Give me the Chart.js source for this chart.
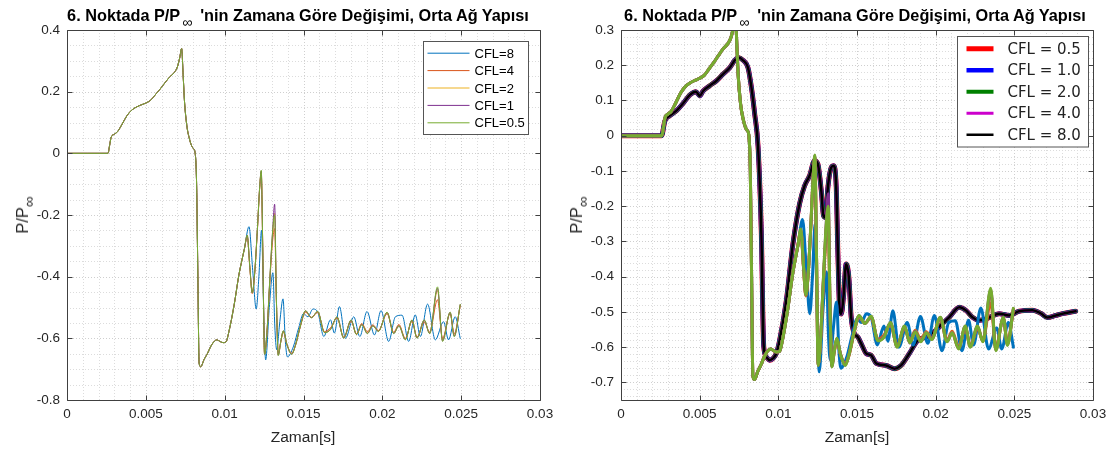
<!DOCTYPE html>
<html>
<head>
<meta charset="utf-8">
<script src="https://cdn.jsdelivr.net/npm/chart.js@4.4.1/dist/chart.umd.min.js"></script>
<style>
  body { margin: 0; background: #fff; }
  #wrap { position: relative; width: 1110px; height: 453px; overflow: hidden; font-family: "Liberation Sans", Arial, sans-serif; color: #000; }
  canvas { position: absolute; top: 0; }
  .ttl { position: absolute; top: 5px; font-weight: bold; font-size: 16.3px; line-height: 20px; white-space: nowrap; transform: translateX(-50%); }
  .ttl sub { font-weight: normal; font-size: 14px; line-height: 0; vertical-align: -6px; margin: 0 8px 0 2px; }
  .xlab { position: absolute; top: 428px; font-size: 15.5px; line-height: 18px; white-space: nowrap; transform: translateX(-50%); color: #262626; }
  .ylab { position: absolute; top: 215px; font-size: 16.5px; line-height: 18px; white-space: nowrap; transform: translate(-50%, -50%) rotate(-90deg); color: #262626; }
  .ylab sub { font-size: 15px; line-height: 0; vertical-align: -6px; }
</style>
</head>
<body>
<div id="wrap">
  <canvas id="leftChart" width="555" height="453" style="left:0"></canvas>
  <canvas id="rightChart" width="555" height="453" style="left:555px"></canvas>
  <div class="ttl" style="left:298px">6. Noktada P/P<sub>∞</sub>'nin Zamana Göre Değişimi, Orta Ağ Yapısı</div>
  <div class="ttl" style="left:855px">6. Noktada P/P<sub>∞</sub>'nin Zamana Göre Değişimi, Orta Ağ Yapısı</div>
  <div class="ylab" style="left:22px">P/P<sub>∞</sub></div>
  <div class="ylab" style="left:576px">P/P<sub>∞</sub></div>
  <div class="xlab" style="left:303px">Zaman[s]</div>
  <div class="xlab" style="left:857px">Zaman[s]</div>
</div>
<script>
// common start of every CFL run (identical up to ~0.011 s)
const tHead = [0, 0.0026, 0.0027, 0.0028, 0.0030, 0.0032, 0.0035, 0.0038, 0.0041, 0.0044, 0.0047, 0.0050,
  0.0053, 0.0056, 0.0059, 0.0062, 0.0065, 0.0068, 0.0070, 0.00715, 0.00727, 0.00737, 0.00745, 0.00760,
  0.00775, 0.00790, 0.00802, 0.00812, 0.00822, 0.00830, 0.00838, 0.00848, 0.00870, 0.00890, 0.00910,
  0.00930, 0.00950, 0.00970, 0.00990, 0.01008, 0.01027, 0.01060, 0.01090, 0.01110];
const pHead = [0, 0, 0.025, 0.052, 0.062, 0.070, 0.095, 0.122, 0.140, 0.150, 0.157, 0.163,
  0.172, 0.190, 0.208, 0.228, 0.247, 0.262, 0.280, 0.310, 0.340, 0.250, 0.170, 0.090,
  0.050, 0.025, 0.015, 0.003, -0.100, -0.400, -0.680, -0.692, -0.668, -0.650, -0.628,
  -0.612, -0.605, -0.610, -0.614, -0.612, -0.578, -0.492, -0.395, -0.345];

// CFL=8 tail
const tTail8 = [0.01125, 0.01154, 0.01178, 0.01200, 0.01217, 0.01234, 0.01246, 0.01260, 0.01283, 0.01306,
  0.01318, 0.01330, 0.01350, 0.01370, 0.01385, 0.01398, 0.01435, 0.01470, 0.01500, 0.01528, 0.01560,
  0.01590, 0.01629, 0.01671, 0.01696, 0.01728, 0.01766, 0.01819, 0.01857, 0.01903, 0.01950, 0.01992,
  0.02040, 0.02083, 0.02125, 0.02167, 0.02209, 0.02241, 0.02287, 0.02336, 0.02388, 0.02420, 0.02462, 0.02494];
const pTail8 = [-0.310, -0.238, -0.380, -0.505, -0.400, -0.249, -0.480, -0.670, -0.500, -0.387,
  -0.560, -0.637, -0.545, -0.472, -0.610, -0.660, -0.628, -0.565, -0.520, -0.530, -0.505,
  -0.515, -0.594, -0.540, -0.583, -0.497, -0.600, -0.530, -0.594, -0.513, -0.589, -0.510,
  -0.610, -0.530, -0.525, -0.610, -0.524, -0.594, -0.489, -0.605, -0.546, -0.605, -0.530, -0.600];

// CFL=4, 2, 1, 0.5 tails share one time grid
const tTail = [0.01125, 0.01143, 0.01160, 0.01175, 0.01190, 0.01207, 0.01222, 0.01232, 0.01242, 0.01253,
  0.01268, 0.01285, 0.01303, 0.01317, 0.01328, 0.01340, 0.01356, 0.01372, 0.01395, 0.01425, 0.01450,
  0.01480, 0.01513, 0.01550, 0.01590, 0.01633, 0.01671, 0.01713, 0.01755, 0.01802, 0.01836, 0.01870,
  0.01905, 0.01940, 0.01975, 0.02030, 0.02072, 0.02105, 0.02146, 0.02188, 0.02220, 0.02266, 0.02300,
  0.02350, 0.02382, 0.02430, 0.02456, 0.02494];
const pTail4 = [-0.310, -0.272, -0.375, -0.455, -0.392, -0.255, -0.115, -0.065, -0.320, -0.650,
  -0.585, -0.430, -0.290, -0.244, -0.480, -0.650, -0.612, -0.580, -0.620, -0.648, -0.622,
  -0.562, -0.515, -0.532, -0.516, -0.578, -0.566, -0.535, -0.596, -0.545, -0.585, -0.552,
  -0.578, -0.556, -0.575, -0.520, -0.580, -0.555, -0.600, -0.545, -0.596, -0.548, -0.580,
  -0.475, -0.600, -0.520, -0.585, -0.495];
const pTail2 = [-0.310, -0.268, -0.372, -0.453, -0.391, -0.252, -0.112, -0.060, -0.320, -0.651,
  -0.582, -0.425, -0.272, -0.195, -0.472, -0.654, -0.611, -0.577, -0.620, -0.650, -0.621,
  -0.561, -0.512, -0.533, -0.514, -0.580, -0.570, -0.532, -0.598, -0.542, -0.587, -0.554,
  -0.582, -0.558, -0.577, -0.517, -0.583, -0.558, -0.603, -0.542, -0.598, -0.542, -0.583,
  -0.445, -0.606, -0.517, -0.591, -0.492];
const pTail1 = [-0.310, -0.266, -0.371, -0.452, -0.390, -0.251, -0.110, -0.057, -0.320, -0.652,
  -0.581, -0.422, -0.262, -0.165, -0.468, -0.655, -0.610, -0.576, -0.620, -0.651, -0.620,
  -0.560, -0.511, -0.533, -0.513, -0.581, -0.571, -0.531, -0.599, -0.541, -0.588, -0.555,
  -0.584, -0.559, -0.577, -0.516, -0.584, -0.559, -0.604, -0.541, -0.599, -0.541, -0.584,
  -0.438, -0.608, -0.516, -0.593, -0.491];
const pTail05 = [-0.310, -0.265, -0.370, -0.452, -0.390, -0.250, -0.110, -0.055, -0.320, -0.652,
  -0.580, -0.420, -0.260, -0.200, -0.470, -0.656, -0.610, -0.575, -0.620, -0.652, -0.620,
  -0.560, -0.510, -0.533, -0.512, -0.582, -0.572, -0.530, -0.600, -0.540, -0.588, -0.556,
  -0.585, -0.560, -0.578, -0.515, -0.585, -0.560, -0.605, -0.540, -0.600, -0.540, -0.585,
  -0.433, -0.610, -0.515, -0.595, -0.490];

// right panel reference run (same curve for all five legend entries)
const tRef = [0, 0.00258, 0.00279, 0.00311, 0.00353, 0.00395, 0.00438, 0.00476, 0.00501, 0.00522, 0.00564,
  0.00607, 0.00649, 0.00691, 0.00723, 0.00744, 0.00776, 0.00807, 0.00829, 0.00850, 0.00871, 0.00892,
  0.00907, 0.00924, 0.00945, 0.00966, 0.00987, 0.01008, 0.01051, 0.01093, 0.01135, 0.01167, 0.01199,
  0.01230, 0.01251, 0.01273, 0.01287, 0.01300, 0.01315, 0.01336, 0.01351, 0.01368, 0.01378, 0.01389,
  0.01400, 0.01414, 0.01431, 0.01448, 0.01463, 0.01484, 0.01505, 0.01537, 0.01558, 0.01590, 0.01622,
  0.01685, 0.01738, 0.01780, 0.01833, 0.01886, 0.01939, 0.02002, 0.02044, 0.02087, 0.02150, 0.02193,
  0.02234, 0.02277, 0.02319, 0.02404, 0.02467, 0.02530, 0.02615, 0.02668, 0.02710, 0.02763, 0.02805, 0.02890];
const pRef = [0, 0, 0.042, 0.057, 0.071, 0.092, 0.116, 0.125, 0.113, 0.127, 0.142,
  0.156, 0.175, 0.193, 0.214, 0.222, 0.214, 0.193, 0.137, 0.061, -0.030, -0.277,
  -0.597, -0.628, -0.637, -0.632, -0.618, -0.581, -0.467, -0.306, -0.193, -0.142, -0.113,
  -0.071, -0.080, -0.156, -0.227, -0.232, -0.146, -0.090, -0.085, -0.146, -0.326, -0.487,
  -0.506, -0.458, -0.364, -0.401, -0.515, -0.562, -0.571, -0.600, -0.618, -0.623, -0.646,
  -0.652, -0.661, -0.652, -0.618, -0.581, -0.571, -0.552, -0.533, -0.515, -0.487, -0.496,
  -0.515, -0.524, -0.520, -0.505, -0.510, -0.498, -0.495, -0.504, -0.516, -0.510, -0.505, -0.498];

const labelsLeft = ['CFL=8', 'CFL=4', 'CFL=2', 'CFL=1', 'CFL=0.5'];
const labelsRight = ['CFL = 0.5', 'CFL = 1.0', 'CFL = 2.0', 'CFL = 4.0', 'CFL = 8.0'];
const xTicks = { min: 0, max: 0.03, step: 0.005, minor: 0.001 };

const FONT = '"Liberation Sans", Arial, sans-serif';
const matlabColors = ['#0072BD', '#D95319', '#EDB120', '#7E2F8E', '#77AC30'];
const refColors = ['#ff0000', '#0000ff', '#008000', '#cc00cc', '#000000'];
const refWidths = [5, 4.5, 4, 3, 2.5];

function pts(ts, ps) { return ts.map((t, i) => ({ x: t, y: ps[i] })); }
function fmt(v) { return String(Math.round(v * 10000) / 10000); }
function steps(min, max, step) {
  const out = [];
  const i0 = Math.ceil(min / step - 1e-6), i1 = Math.floor(max / step + 1e-6);
  for (let i = i0; i <= i1; i++) out.push(i * step);
  return out;
}

const runs = [
  pts(tHead.concat(tTail8), pHead.concat(pTail8)),
  pts(tHead.concat(tTail), pHead.concat(pTail4)),
  pts(tHead.concat(tTail), pHead.concat(pTail2)),
  pts(tHead.concat(tTail), pHead.concat(pTail1)),
  pts(tHead.concat(tTail), pHead.concat(pTail05))
];

// grid, box and inward ticks the way MATLAB draws them
const matlabAxes = {
  id: 'matlabAxes',
  beforeDatasetsDraw(chart, args, o) {
    const { ctx, chartArea: a, scales: { x, y } } = chart;
    ctx.save();
    ctx.lineWidth = 1;
    ctx.setLineDash([1, 2]);
    const vLine = px => { const p = Math.round(px) + 0.5; ctx.beginPath(); ctx.moveTo(p, a.top); ctx.lineTo(p, a.bottom); ctx.stroke(); };
    const hLine = py => { const p = Math.round(py) + 0.5; ctx.beginPath(); ctx.moveTo(a.left, p); ctx.lineTo(a.right, p); ctx.stroke(); };
    ctx.strokeStyle = o.minorColor;
    steps(x.min, x.max, o.xMinor).forEach(v => vLine(x.getPixelForValue(v)));
    steps(y.min, y.max, o.yMinor).forEach(v => hLine(y.getPixelForValue(v)));
    ctx.strokeStyle = o.majorColor;
    x.ticks.forEach(t => vLine(x.getPixelForValue(t.value)));
    y.ticks.forEach(t => hLine(y.getPixelForValue(t.value)));
    ctx.restore();
  },
  afterDatasetsDraw(chart, args, o) {
    const { ctx, chartArea: a, scales: { x, y } } = chart;
    const L = Math.round(a.left) + 0.5, R = Math.round(a.right) + 0.5;
    const T = Math.round(a.top) + 0.5, B = Math.round(a.bottom) + 0.5;
    ctx.save();
    ctx.strokeStyle = o.boxColor;
    ctx.lineWidth = 1;
    ctx.beginPath();
    ctx.rect(L, T, R - L, B - T);
    x.ticks.forEach(t => {
      const p = Math.round(x.getPixelForValue(t.value)) + 0.5;
      ctx.moveTo(p, B); ctx.lineTo(p, B - o.tickLen);
      ctx.moveTo(p, T); ctx.lineTo(p, T + o.tickLen);
    });
    y.ticks.forEach(t => {
      const p = Math.round(y.getPixelForValue(t.value)) + 0.5;
      ctx.moveTo(L, p); ctx.lineTo(L + o.tickLen, p);
      ctx.moveTo(R, p); ctx.lineTo(R - o.tickLen, p);
    });
    ctx.stroke();
    ctx.restore();
  }
};

// legend box inside the axes
const boxLegend = {
  id: 'boxLegend',
  afterDraw(chart, args, o) {
    const { ctx, chartArea: a } = chart;
    const items = chart.data.datasets.slice(0, o.count);
    const x0 = Math.round(a.right - o.offsetRight - o.width) + 0.5;
    const y0 = Math.round(a.top + o.offsetTop) + 0.5;
    const h = o.padY * 2 + o.rowH * items.length;
    ctx.save();
    ctx.fillStyle = '#fff';
    ctx.fillRect(x0, y0, o.width, h);
    ctx.strokeStyle = o.borderColor;
    ctx.lineWidth = 1;
    ctx.strokeRect(x0, y0, o.width, h);
    ctx.font = o.font;
    ctx.textBaseline = 'middle';
    items.forEach((ds, i) => {
      const cy = y0 + o.padY + o.rowH * (i + 0.5);
      ctx.strokeStyle = ds.borderColor;
      ctx.lineWidth = ds.borderWidth;
      ctx.beginPath();
      ctx.moveTo(x0 + o.lineX0, cy);
      ctx.lineTo(x0 + o.lineX1, cy);
      ctx.stroke();
      ctx.fillStyle = o.textColor;
      ctx.fillText(ds.label, x0 + o.textX, cy + 1);
    });
    ctx.restore();
  }
};

function axisOptions(yMin, yMax, yStep, padL, padR) {
  const tickFont = { family: FONT, size: 13.5 };
  return {
    responsive: false,
    animation: false,
    devicePixelRatio: 1,
    layout: { padding: { left: padL, right: padR, top: 30, bottom: 23 } },
    elements: { point: { radius: 0 }, line: { cubicInterpolationMode: 'monotone', borderCapStyle: 'round', borderJoinStyle: 'round' } },
    plugins: { legend: { display: false }, tooltip: { enabled: false } },
    scales: {
      x: {
        type: 'linear', min: xTicks.min, max: xTicks.max,
        afterFit: s => { s.height = 30; s.paddingLeft = 0; s.paddingRight = 0; },
        grid: { display: false, drawTicks: false }, border: { display: false },
        ticks: { stepSize: xTicks.step, padding: 6, maxRotation: 0, autoSkip: false, color: '#262626', font: tickFont, callback: fmt }
      },
      y: {
        type: 'linear', min: yMin, max: yMax,
        afterFit: s => { s.width = 60; s.paddingTop = 0; s.paddingBottom = 0; },
        grid: { display: false, drawTicks: false }, border: { display: false },
        ticks: { stepSize: yStep, includeBounds: false, padding: 7, autoSkip: false, color: '#262626', font: tickFont, callback: fmt }
      }
    }
  };
}

const leftOpts = axisOptions(-0.8, 0.4, 0.2, 7, 15);
leftOpts.plugins.matlabAxes = { xMinor: xTicks.minor, yMinor: 0.05, minorColor: '#dcdcdc', majorColor: '#cfcfcf', boxColor: '#404040', tickLen: 5 };
leftOpts.plugins.boxLegend = { count: 5, width: 105, offsetRight: 12, offsetTop: 11, padY: 3, rowH: 17.4,
  lineX0: 4, lineX1: 46, textX: 51, font: '13px ' + FONT, textColor: '#000', borderColor: '#555' };

new Chart(document.getElementById('leftChart'), {
  type: 'line',
  data: {
    datasets: runs.map((d, i) => ({
      label: labelsLeft[i], data: d, borderColor: matlabColors[i], borderWidth: 1, order: 10 - i, clip: 0
    }))
  },
  options: leftOpts,
  plugins: [matlabAxes, boxLegend]
});

const rightOpts = axisOptions(-0.75, 0.3, 0.1, 6, 17);
rightOpts.plugins.matlabAxes = { xMinor: xTicks.minor, yMinor: 0.02, minorColor: '#dcdcdc', majorColor: '#cfcfcf', boxColor: '#404040', tickLen: 5 };
rightOpts.plugins.boxLegend = { count: 5, width: 131, offsetRight: 5, offsetTop: 6, padY: 1.5, rowH: 21.5,
  lineX0: 9, lineX1: 36, textX: 50, font: '15px "DejaVu Sans", sans-serif', textColor: '#222', borderColor: '#555' };

const refSets = labelsRight.map((lab, i) => ({
  label: lab, data: pts(tRef, pRef), borderColor: refColors[i], borderWidth: refWidths[i], order: 20 - i, clip: 0
}));
const runSets = runs.map((d, i) => ({
  label: labelsLeft[i], data: d, borderColor: matlabColors[i], borderWidth: 3, order: 10 - i, clip: 0
}));

new Chart(document.getElementById('rightChart'), {
  type: 'line',
  data: { datasets: refSets.concat(runSets) },
  options: rightOpts,
  plugins: [matlabAxes, boxLegend]
});
</script>
</body>
</html>
